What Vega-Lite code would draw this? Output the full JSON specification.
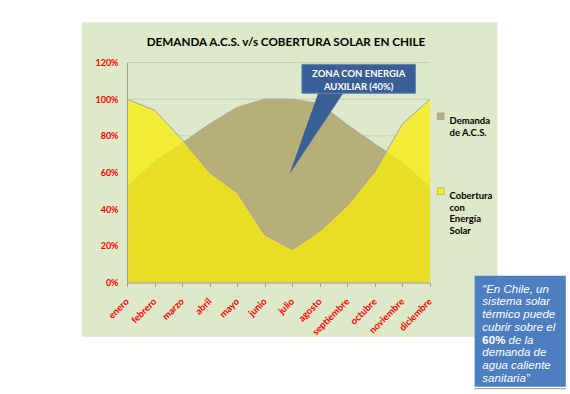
{
  "$schema": "https://vega.github.io/schema/vega-lite/v6.json",
  "width": 303,
  "height": 220,
  "autosize": {"type": "none"},
  "padding": {"left": 127, "top": 62.5, "right": 140, "bottom": 111.5},
  "background": "white",
  "config": {
    "view": {"stroke": null},
    "font": "Lato",
    "axis": {"zindex": 1, "grid": false, "labelOverlap": false, "labelFont": "Lato", "labelFontWeight": "bold", "labelColor": "#ff0000", "domainColor": "#a0a0a0"},
    "axisX": {"labelAngle": -45, "labelAlign": "right", "labelBaseline": "middle", "labelFontSize": 9.5, "labelPadding": 13, "labelFlush": false, "labelBound": false, "tickColor": "#a0a0a0", "tickSize": 4},
    "axisY": {"labelFontSize": 9, "ticks": false, "labelPadding": 9}
  },
  "title": {
    "text": "DEMANDA  A.C.S.  v/s  COBERTURA SOLAR EN CHILE",
    "font": "Lato", "fontSize": 11.7, "fontWeight": "bold", "color": "black",
    "frame": "group", "anchor": "middle", "baseline": "alphabetic", "offset": -35.8, "dx": 7.5, "zindex": 1
  },
  "datasets": {
    "meses": [
      {"i": 0, "mes": "enero", "demanda": 0.52, "cobertura": 1.0},
      {"i": 1, "mes": "febrero", "demanda": 0.66, "cobertura": 0.94},
      {"i": 2, "mes": "marzo", "demanda": 0.76, "cobertura": 0.78},
      {"i": 3, "mes": "abril", "demanda": 0.865, "cobertura": 0.60},
      {"i": 4, "mes": "mayo", "demanda": 0.955, "cobertura": 0.49},
      {"i": 5, "mes": "junio", "demanda": 1.0, "cobertura": 0.26},
      {"i": 6, "mes": "julio", "demanda": 1.0, "cobertura": 0.18},
      {"i": 7, "mes": "agosto", "demanda": 0.975, "cobertura": 0.28},
      {"i": 8, "mes": "septiembre", "demanda": 0.86, "cobertura": 0.42},
      {"i": 9, "mes": "octubre", "demanda": 0.755, "cobertura": 0.605},
      {"i": 10, "mes": "noviembre", "demanda": 0.655, "cobertura": 0.865},
      {"i": 11, "mes": "diciembre", "demanda": 0.52, "cobertura": 1.0}
    ],
    "grid": [{"g": 0.2}, {"g": 0.4}, {"g": 0.6}, {"g": 0.8}, {"g": 1.0}, {"g": 1.2}]
  },
  "layer": [
    {
      "data": {"values": [{}]},
      "mark": {"type": "rect", "fill": "#dde9c8"},
      "encoding": {
        "x": {"datum": -1.64, "type": "quantitative", "title": null, "scale": {"domain": [0, 11], "nice": false, "zero": false},
              "axis": {"zindex": 1, "values": [0, 1, 2, 3, 4, 5, 6, 7, 8, 9, 10, 11], "labelExpr": "['enero','febrero','marzo','abril','mayo','junio','julio','agosto','septiembre','octubre','noviembre','diciembre'][datum.value]"}},
        "x2": {"datum": 13.45},
        "y": {"datum": 1.42, "type": "quantitative", "title": null, "scale": {"domain": [0, 1.2], "nice": false},
              "axis": {"zindex": 1, "values": [0, 0.2, 0.4, 0.6, 0.8, 1.0, 1.2], "format": ".0%"}},
        "y2": {"datum": -0.296}
      }
    },
    {
      "data": {"name": "grid"},
      "mark": {"type": "rule", "color": "#c4d2af", "strokeWidth": 1},
      "encoding": {"y": {"field": "g", "type": "quantitative", "title": null, "axis": {"zindex": 1, "values": [0, 0.2, 0.4, 0.6, 0.8, 1.0, 1.2], "format": ".0%"}}}
    },
    {
      "data": {"name": "meses"},
      "mark": {"type": "area", "opacity": 1},
      "encoding": {
        "x": {"field": "i", "type": "quantitative", "title": null,
              "axis": {"zindex": 1, "values": [0, 1, 2, 3, 4, 5, 6, 7, 8, 9, 10, 11], "labelExpr": "['enero','febrero','marzo','abril','mayo','junio','julio','agosto','septiembre','octubre','noviembre','diciembre'][datum.value]"}},
        "y": {"field": "demanda", "type": "quantitative", "title": null,
              "axis": {"zindex": 1, "values": [0, 0.2, 0.4, 0.6, 0.8, 1.0, 1.2], "format": ".0%"}},
        "color": {
          "datum": "Demanda|de A.C.S.",
          "type": "nominal",
          "scale": {"domain": ["Demanda|de A.C.S.", "Cobertura|con|Energía|Solar"], "range": ["#b8ae7a", "#faed0b"]},
          "legend": {
            "orient": "none", "legendX": 309, "legendY": 49, "title": null, "padding": 0,
            "symbolType": "square", "symbolSize": 45, "symbolStrokeWidth": 0.5, "symbolStrokeColor": "#8c8c8c",
            "labelFont": "Lato", "labelFontWeight": "bold", "labelFontSize": 9.5, "labelColor": "black",
            "labelExpr": "split(datum.label, '|')", "labelBaseline": "top", "labelLimit": 0, "labelOffset": 4,
            "rowPadding": 49, "zindex": 1
          }
        }
      }
    },
    {
      "data": {"name": "meses"},
      "mark": {"type": "line", "color": "#a3a3a8", "strokeWidth": 1},
      "encoding": {
        "x": {"field": "i", "type": "quantitative", "title": null,
              "axis": {"zindex": 1, "values": [0, 1, 2, 3, 4, 5, 6, 7, 8, 9, 10, 11], "labelExpr": "['enero','febrero','marzo','abril','mayo','junio','julio','agosto','septiembre','octubre','noviembre','diciembre'][datum.value]"}},
        "y": {"field": "demanda", "type": "quantitative", "title": null,
              "axis": {"zindex": 1, "values": [0, 0.2, 0.4, 0.6, 0.8, 1.0, 1.2], "format": ".0%"}}
      }
    },
    {
      "data": {"name": "meses"},
      "mark": {"type": "area", "opacity": 0.75},
      "encoding": {
        "x": {"field": "i", "type": "quantitative", "title": null,
              "axis": {"zindex": 1, "values": [0, 1, 2, 3, 4, 5, 6, 7, 8, 9, 10, 11], "labelExpr": "['enero','febrero','marzo','abril','mayo','junio','julio','agosto','septiembre','octubre','noviembre','diciembre'][datum.value]"}},
        "y": {"field": "cobertura", "type": "quantitative", "title": null,
              "axis": {"zindex": 1, "values": [0, 0.2, 0.4, 0.6, 0.8, 1.0, 1.2], "format": ".0%"}},
        "color": {"datum": "Cobertura|con|Energía|Solar", "type": "nominal"}
      }
    },
    {
      "data": {"name": "meses"},
      "mark": {"type": "line", "color": "#a3a3a8", "strokeWidth": 1},
      "encoding": {
        "x": {"field": "i", "type": "quantitative", "title": null,
              "axis": {"zindex": 1, "values": [0, 1, 2, 3, 4, 5, 6, 7, 8, 9, 10, 11], "labelExpr": "['enero','febrero','marzo','abril','mayo','junio','julio','agosto','septiembre','octubre','noviembre','diciembre'][datum.value]"}},
        "y": {"field": "cobertura", "type": "quantitative", "title": null,
              "axis": {"zindex": 1, "values": [0, 0.2, 0.4, 0.6, 0.8, 1.0, 1.2], "format": ".0%"}}
      }
    },
    {
      "data": {"values": [{}]},
      "mark": {"type": "point", "filled": true, "fill": "#3a5f94", "opacity": 1, "strokeWidth": 0, "size": 26896, "shape": "M0,0L0.362,-1.02L0.679,-1.02Z"},
      "encoding": {
        "x": {"datum": 5.9, "type": "quantitative", "title": null,
              "axis": {"zindex": 1, "values": [0, 1, 2, 3, 4, 5, 6, 7, 8, 9, 10, 11], "labelExpr": "['enero','febrero','marzo','abril','mayo','junio','julio','agosto','septiembre','octubre','noviembre','diciembre'][datum.value]"}},
        "y": {"datum": 0.592, "type": "quantitative", "title": null,
              "axis": {"zindex": 1, "values": [0, 0.2, 0.4, 0.6, 0.8, 1.0, 1.2], "format": ".0%"}}
      }
    },
    {
      "data": {"values": [{}]},
      "mark": {"type": "rect", "fill": "#3a5f94", "stroke": "#6487bd", "strokeWidth": 1},
      "encoding": {
        "x": {"datum": 6.35, "type": "quantitative", "title": null,
              "axis": {"zindex": 1, "values": [0, 1, 2, 3, 4, 5, 6, 7, 8, 9, 10, 11], "labelExpr": "['enero','febrero','marzo','abril','mayo','junio','julio','agosto','septiembre','octubre','noviembre','diciembre'][datum.value]"}},
        "x2": {"datum": 10.47},
        "y": {"datum": 1.19, "type": "quantitative", "title": null,
              "axis": {"zindex": 1, "values": [0, 0.2, 0.4, 0.6, 0.8, 1.0, 1.2], "format": ".0%"}},
        "y2": {"datum": 1.032}
      }
    },
    {
      "data": {"values": [{}]},
      "mark": {"type": "text", "text": "ZONA CON ENERGIA\nAUXILIAR (40%)", "lineBreak": "\n", "lineHeight": 12.4, "align": "center", "baseline": "top", "font": "Lato", "fontWeight": "bold", "fontSize": 9.5, "color": "white"},
      "encoding": {
        "x": {"datum": 8.41, "type": "quantitative", "title": null,
              "axis": {"zindex": 1, "values": [0, 1, 2, 3, 4, 5, 6, 7, 8, 9, 10, 11], "labelExpr": "['enero','febrero','marzo','abril','mayo','junio','julio','agosto','septiembre','octubre','noviembre','diciembre'][datum.value]"}},
        "y": {"datum": 1.162, "type": "quantitative", "title": null,
              "axis": {"zindex": 1, "values": [0, 0.2, 0.4, 0.6, 0.8, 1.0, 1.2], "format": ".0%"}}
      }
    },
    {
      "data": {"values": [{}]},
      "mark": {"type": "rect", "fill": "#4d7ebf"},
      "encoding": {
        "x": {"datum": 12.62, "type": "quantitative", "title": null,
              "axis": {"zindex": 1, "values": [0, 1, 2, 3, 4, 5, 6, 7, 8, 9, 10, 11], "labelExpr": "['enero','febrero','marzo','abril','mayo','junio','julio','agosto','septiembre','octubre','noviembre','diciembre'][datum.value]"}},
        "x2": {"datum": 15.93},
        "y": {"datum": 0.0365, "type": "quantitative", "title": null,
              "axis": {"zindex": 1, "values": [0, 0.2, 0.4, 0.6, 0.8, 1.0, 1.2], "format": ".0%"}},
        "y2": {"datum": -0.568}
      }
    },
    {
      "data": {"values": [{}]},
      "mark": {"type": "rule", "color": "#333333", "strokeDash": [1, 1], "strokeWidth": 1},
      "encoding": {
        "x": {"datum": 12.62, "type": "quantitative", "title": null,
              "axis": {"zindex": 1, "values": [0, 1, 2, 3, 4, 5, 6, 7, 8, 9, 10, 11], "labelExpr": "['enero','febrero','marzo','abril','mayo','junio','julio','agosto','septiembre','octubre','noviembre','diciembre'][datum.value]"}},
        "x2": {"datum": 15.93},
        "y": {"datum": -0.579, "type": "quantitative", "title": null,
              "axis": {"zindex": 1, "values": [0, 0.2, 0.4, 0.6, 0.8, 1.0, 1.2], "format": ".0%"}}
      }
    },
    {
      "data": {"values": [{}]},
      "mark": {"type": "text", "text": "“En Chile, un\nsistema solar\ntérmico puede\ncubrir sobre el", "lineBreak": "\n", "lineHeight": 12.7, "align": "left", "baseline": "top", "font": "Liberation Sans", "fontStyle": "italic", "fontSize": 11.5, "color": "white"},
      "encoding": {
        "x": {"datum": 12.9, "type": "quantitative", "title": null,
              "axis": {"zindex": 1, "values": [0, 1, 2, 3, 4, 5, 6, 7, 8, 9, 10, 11], "labelExpr": "['enero','febrero','marzo','abril','mayo','junio','julio','agosto','septiembre','octubre','noviembre','diciembre'][datum.value]"}},
        "y": {"datum": -0.007, "type": "quantitative", "title": null,
              "axis": {"zindex": 1, "values": [0, 0.2, 0.4, 0.6, 0.8, 1.0, 1.2], "format": ".0%"}}
      }
    },
    {
      "data": {"values": [{}]},
      "mark": {"type": "text", "text": "60%", "align": "left", "baseline": "top", "font": "Liberation Sans", "fontWeight": "bold", "fontSize": 11.5, "color": "white"},
      "encoding": {
        "x": {"datum": 12.9, "type": "quantitative", "title": null,
              "axis": {"zindex": 1, "values": [0, 1, 2, 3, 4, 5, 6, 7, 8, 9, 10, 11], "labelExpr": "['enero','febrero','marzo','abril','mayo','junio','julio','agosto','septiembre','octubre','noviembre','diciembre'][datum.value]"}},
        "y": {"datum": -0.284, "type": "quantitative", "title": null,
              "axis": {"zindex": 1, "values": [0, 0.2, 0.4, 0.6, 0.8, 1.0, 1.2], "format": ".0%"}}
      }
    },
    {
      "data": {"values": [{}]},
      "mark": {"type": "text", "text": "de la", "align": "left", "baseline": "top", "font": "Liberation Sans", "fontStyle": "italic", "fontSize": 11.5, "color": "white"},
      "encoding": {
        "x": {"datum": 13.85, "type": "quantitative", "title": null,
              "axis": {"zindex": 1, "values": [0, 1, 2, 3, 4, 5, 6, 7, 8, 9, 10, 11], "labelExpr": "['enero','febrero','marzo','abril','mayo','junio','julio','agosto','septiembre','octubre','noviembre','diciembre'][datum.value]"}},
        "y": {"datum": -0.284, "type": "quantitative", "title": null,
              "axis": {"zindex": 1, "values": [0, 0.2, 0.4, 0.6, 0.8, 1.0, 1.2], "format": ".0%"}}
      }
    },
    {
      "data": {"values": [{}]},
      "mark": {"type": "text", "text": "demanda de\nagua caliente\nsanitaria”", "lineBreak": "\n", "lineHeight": 12.7, "align": "left", "baseline": "top", "font": "Liberation Sans", "fontStyle": "italic", "fontSize": 11.5, "color": "white"},
      "encoding": {
        "x": {"datum": 12.9, "type": "quantitative", "title": null,
              "axis": {"zindex": 1, "values": [0, 1, 2, 3, 4, 5, 6, 7, 8, 9, 10, 11], "labelExpr": "['enero','febrero','marzo','abril','mayo','junio','julio','agosto','septiembre','octubre','noviembre','diciembre'][datum.value]"}},
        "y": {"datum": -0.353, "type": "quantitative", "title": null,
              "axis": {"zindex": 1, "values": [0, 0.2, 0.4, 0.6, 0.8, 1.0, 1.2], "format": ".0%"}}
      }
    }
  ]
}
